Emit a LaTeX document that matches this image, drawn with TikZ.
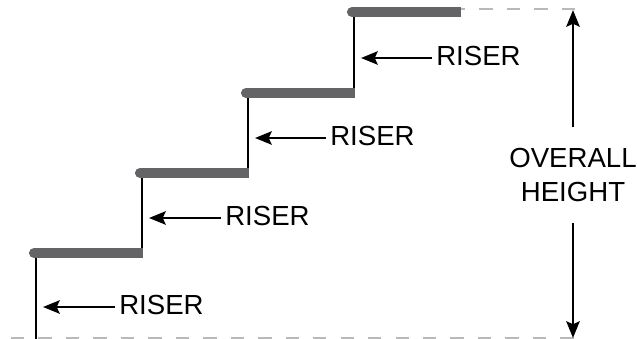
\documentclass[tikz,border=0pt]{standalone}
\usepackage{fontspec}
\setmainfont{Liberation Sans}
\usetikzlibrary{arrows.meta}
\definecolor{treadgray}{RGB}{100,100,102}
\definecolor{dashgray}{RGB}{185,185,185}
\tikzset{
  tread/.style={draw=treadgray, line width=7.6pt},
  riser/.style={draw=black, line width=2.2pt},
  pointer/.style={draw=black, line width=1.9pt, -{Stealth[length=12.5pt,width=10pt,inset=2.2pt]}},
  label/.style={inner sep=3pt, anchor=west, font=\fontsize{20.7}{24}\selectfont},
  limit/.style={draw=dashgray, line width=1.2pt, dash pattern=on 10pt off 10.6pt},
}
\begin{document}
\begin{tikzpicture}[x=0.75pt, y=-0.75pt]
\useasboundingbox (0,0) rectangle (637,339);

\coordinate (tread1a) at (34,253);
\coordinate (tread1b) at (143,253);
\coordinate (tread2a) at (140,173);
\coordinate (tread2b) at (249,173);
\coordinate (tread3a) at (246,93);
\coordinate (tread3b) at (355,93);
\coordinate (tread4a) at (352,12);
\coordinate (tread4b) at (461,12);

% limits of the overall height
\coordinate (limittopa) at (452,9);
\coordinate (limittopb) at (577,9);
\coordinate (limitbota) at (11,338);
\coordinate (limitbotb) at (578,338);
\draw[limit] (limittopa) -- (limittopb);
\draw[limit] (limitbota) -- (limitbotb);

% risers
\coordinate (riser1a) at (36,253);
\coordinate (riser1b) at (36,339);
\coordinate (riser2a) at (142,173);
\coordinate (riser2b) at (142,257);
\coordinate (riser3a) at (248,93);
\coordinate (riser3b) at (248,177);
\coordinate (riser4a) at (354,12);
\coordinate (riser4b) at (354,97);
\draw[riser] (riser1a) -- (riser1b);
\draw[riser] (riser2a) -- (riser2b);
\draw[riser] (riser3a) -- (riser3b);
\draw[riser] (riser4a) -- (riser4b);

% treads, round at the outer end only
\draw[tread] (tread1a) -- (tread1b);
\draw[tread] (tread2a) -- (tread2b);
\draw[tread] (tread3a) -- (tread3b);
\draw[tread] (tread4a) -- (tread4b);
\draw[tread, line cap=round] (tread1a) -- ++(6,0);
\draw[tread, line cap=round] (tread2a) -- ++(6,0);
\draw[tread, line cap=round] (tread3a) -- ++(6,0);
\draw[tread, line cap=round] (tread4a) -- ++(6,0);

% labels
\node[label] (label1) at (115,305) {RISER};
\node[label] (label2) at (326,136) {RISER};
\node[label] (label3) at (221,216) {RISER};
\node[label] (label4) at (432,56) {RISER};
\coordinate (tip1) at (43,307);
\coordinate (tip2) at (255,138);
\coordinate (tip3) at (149,218);
\coordinate (tip4) at (361,58);
\draw[pointer] (label1.west |- tip1) -- (tip1);
\draw[pointer] (label2.west |- tip2) -- (tip2);
\draw[pointer] (label3.west |- tip3) -- (tip3);
\draw[pointer] (label4.west |- tip4) -- (tip4);

% overall height
\node[inner sep=0pt, minimum height=71pt, align=center, font=\fontsize{20.7}{25.8}\selectfont] (overall) at (573,175) {OVERALL\\HEIGHT};
\coordinate (overalltop) at (573,10);
\coordinate (overallbot) at (573,338);
\draw[pointer] (overall.north) -- (overalltop);
\draw[pointer] (overall.south) -- (overallbot);
\end{tikzpicture}
\end{document}
